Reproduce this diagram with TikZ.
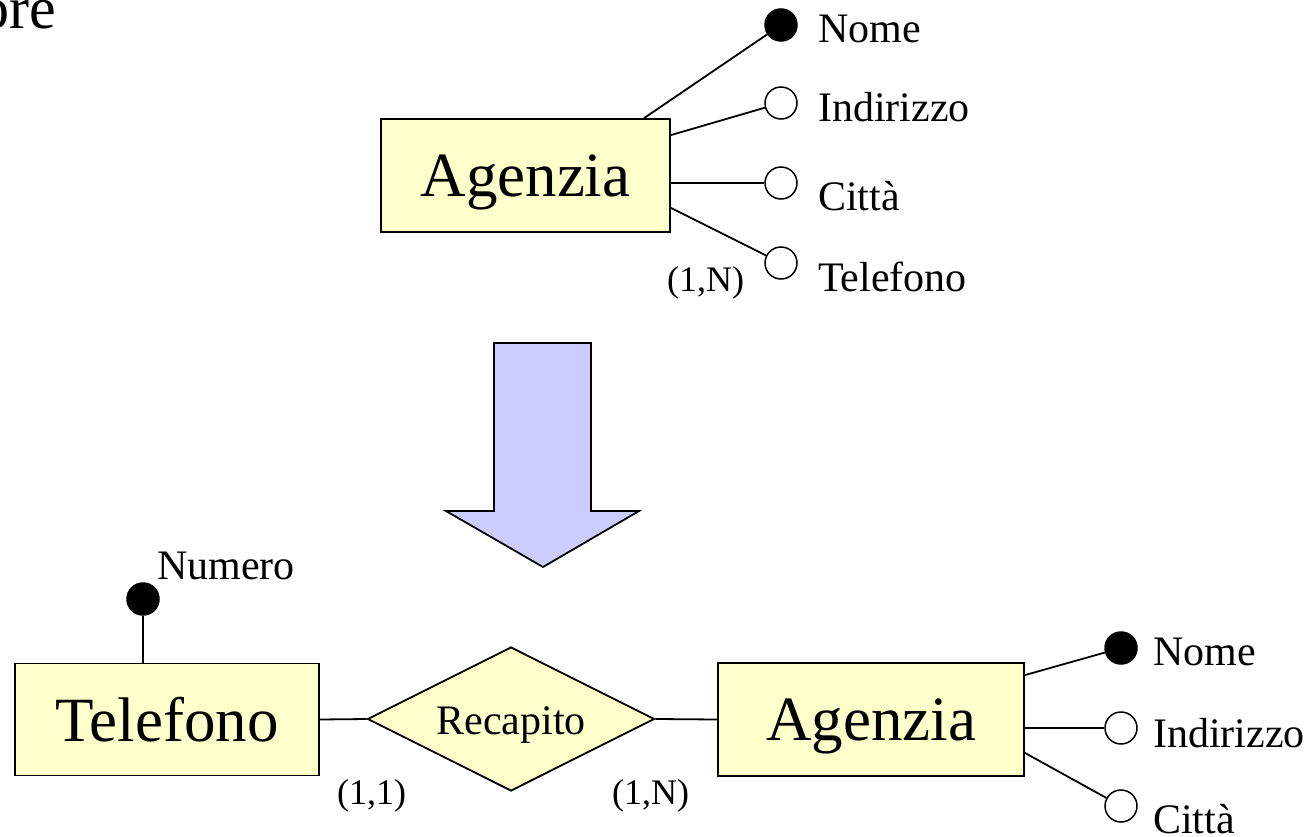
\documentclass[tikz,border=0pt]{standalone}
\usepackage{fontspec}
\setmainfont{Liberation Serif}
\usetikzlibrary{shapes.geometric,calc}
\definecolor{entfill}{HTML}{FFFFCC}
\definecolor{arrfill}{HTML}{CCCCFF}
\tikzset{
  entity/.style={draw, fill=entfill, line width=1.8pt, inner sep=0pt, text depth=0pt,
     font=\fontsize{63}{70}\selectfont},
  relation/.style={draw, fill=entfill, line width=1.8pt, shape=diamond, inner sep=0pt,
     minimum width=287pt, minimum height=144pt, font=\fontsize{42}{48}\selectfont},
  keyattr/.style={draw, fill=black, circle, inner sep=0pt, minimum size=32pt, line width=1.5pt},
  attr/.style={draw, fill=white, circle, inner sep=0pt, minimum size=32pt, line width=1.5pt},
  lbl/.style={anchor=base west, inner sep=0pt, font=\fontsize{42}{48}\selectfont},
  card/.style={anchor=base west, inner sep=0pt, font=\fontsize{36}{42}\selectfont},
  conn/.style={line width=1.8pt},
}
\begin{document}
\begin{tikzpicture}[x=1pt,y=-1pt]
\useasboundingbox (0,0) rectangle (1312,837);
% cut-off title
\node[anchor=base east, inner sep=0pt, font=\fontsize{60}{66}\selectfont] (title) at (56,29) {ore};

% ---- top: Agenzia with multivalued attribute
\node[entity, minimum width=289pt, minimum height=113pt] (ag1) at (525.5,175.5) {Agenzia};
\node[keyattr] (n1) at (781,25) {};
\node[attr] (i1) at (781,103) {};
\node[attr] (c1) at (781,183) {};
\node[attr] (t1) at (781,263) {};
\node[lbl] (ln1) at (818,43) {Nome};
\node[lbl] (li1) at (818,122) {Indirizzo};
\node[lbl] (lc1) at (818,211) {Città};
\node[lbl] (lt1) at (818,291) {Telefono};
\node[card] (k1) at (667,291) {(1,N)};
\draw[conn] ($(ag1.north west)+(264,0)$) -- (n1);
\draw[conn] ($(ag1.north east)+(0,17)$) -- (i1);
\draw[conn] (ag1.east |- c1) -- (c1);
\draw[conn] ($(ag1.south east)+(0,-25)$) -- (t1);

% ---- block arrow
\draw[fill=arrfill, line width=1.8pt, line join=miter]
  (494,343) -- (591,343) -- (591,511) -- (639,511) -- (543,567) -- (446,511) -- (494,511) -- cycle;

% ---- bottom
\node[entity, minimum width=304pt, minimum height=112pt] (tel) at (167,719.5) {Telefono};
\node[relation] (rec) at (511,719) {\raisebox{-15pt}[0pt][0pt]{\makebox[0pt]{Recapito}}};
\node[entity, minimum width=306pt, minimum height=113pt] (ag2) at (871,719.5) {Agenzia};
\node[keyattr] (num) at (143,599) {};
\node[lbl] (lnum) at (157,579) {Numero};
\draw[conn] (num) -- (tel.north -| num);
\draw[conn] (tel.east) -- (rec.west);
\draw[conn] (rec.east) -- (ag2.west);
\node[card] (k2) at (337,804) {(1,1)};
\node[card] (k3) at (612,804) {(1,N)};

\node[keyattr] (n3) at (1121,648) {};
\node[attr] (i3) at (1121,728) {};
\node[attr] (c3) at (1121,806) {};
\node[lbl] (ln3) at (1153,665) {Nome};
\node[lbl] (li3) at (1153,747) {Indirizzo};
\node[lbl] (lc3) at (1153,833) {Città};
\draw[conn] ($(ag2.north east)+(0,13)$) -- (n3);
\draw[conn] (ag2.east |- i3) -- (i3);
\draw[conn] ($(ag2.south east)+(0,-24)$) -- (c3);
\end{tikzpicture}
\end{document}
